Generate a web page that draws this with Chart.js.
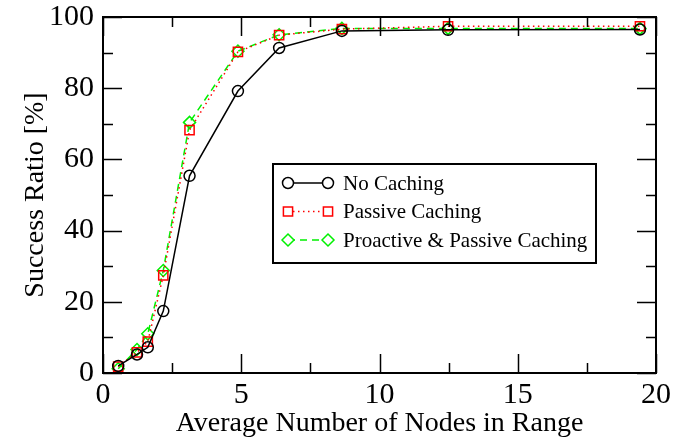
<!DOCTYPE html>
<html>
<head>
<meta charset="utf-8">
<script src="https://cdn.jsdelivr.net/npm/chart.js@4.4.1/dist/chart.umd.min.js"></script>
<style>
  html, body { margin: 0; padding: 0; background: #fff; }
  #wrap { width: 675px; height: 438px; }
</style>
</head>
<body>
<div id="wrap"><canvas id="ratioChart"></canvas></div>
<script>
// Average number of nodes in range (x) and success ratio in % (y)
const nodesInRange = [0.55, 1.23, 1.62, 2.18, 3.13, 4.88, 6.37, 8.64, 12.48, 19.42];
const noCaching = [2.0, 5.2, 7.2, 17.4, 55.4, 79.2, 91.3, 96.1, 96.4, 96.5];
const passiveCaching = [1.8, 5.8, 8.8, 27.4, 68.2, 90.2, 94.9, 96.6, 97.4, 97.4];
const proactivePassive = [1.2, 6.6, 11.0, 28.8, 70.4, 90.4, 95.0, 96.8, 96.8, 96.8];
const xTicks = [0, 5, 10, 15, 20];
const yTicks = [0, 20, 40, 60, 80, 100];

const serif = '"Liberation Serif", "DejaVu Serif", serif';

function points(ys) {
    return nodesInRange.map((x, i) => ({x: x, y: ys[i]}));
}

// Box frame with inward major/minor ticks on all four sides
const frameTicks = {
    id: 'frameTicks',
    afterDatasetsDraw(chart) {
        const {ctx, chartArea: a, scales: {x, y}} = chart;
        ctx.save();
        ctx.strokeStyle = '#000';
        ctx.lineWidth = 1.5;
        ctx.beginPath();
        const tick = (x1, y1, x2, y2) => { ctx.moveTo(x1, y1); ctx.lineTo(x2, y2); };
        for (let v = 0; v <= 20; v += 2.5) {
            const px = Math.round(x.getPixelForValue(v)) + 0.5;
            const len = v % 5 === 0 ? 19 : 10;
            tick(px, a.bottom, px, a.bottom - len);
            tick(px, a.top, px, a.top + len);
        }
        for (let v = 0; v <= 100; v += 10) {
            const py = Math.round(y.getPixelForValue(v)) + 0.5;
            const len = v % 20 === 0 ? 19 : 10;
            tick(a.left, py, a.left + len, py);
            tick(a.right, py, a.right - len, py);
        }
        ctx.stroke();
        ctx.lineWidth = 2;
        ctx.strokeRect(a.left, a.top, a.right - a.left, a.bottom - a.top);
        ctx.restore();
    }
};

// Boxed legend inside the plot, line with a marker at both ends
const boxLegend = {
    id: 'boxLegend',
    afterDraw(chart) {
        const ctx = chart.ctx;
        const left = 273, top = 164, width = 323, height = 99;
        ctx.save();
        ctx.fillStyle = '#fff';
        ctx.fillRect(left, top, width, height);
        ctx.strokeStyle = '#000';
        ctx.lineWidth = 2;
        ctx.strokeRect(left, top, width, height);
        chart.data.datasets.forEach((ds, i) => {
            const rowY = 183 + i * 28.5;
            const x1 = 288, x2 = 328;
            ctx.strokeStyle = ds.borderColor;
            ctx.lineWidth = ds.borderWidth;
            ctx.setLineDash(ds.borderDash || []);
            ctx.beginPath();
            ctx.moveTo(x1, rowY);
            ctx.lineTo(x2, rowY);
            ctx.stroke();
            ctx.setLineDash([]);
            const opts = {
                pointStyle: ds.pointStyle,
                radius: ds.pointRadius,
                rotation: 0,
                borderWidth: ds.pointBorderWidth
            };
            ctx.lineWidth = ds.pointBorderWidth;
            ctx.fillStyle = '#fff';
            [x1, x2].forEach(px => Chart.helpers.drawPoint(ctx, opts, px, rowY));
            ctx.fillStyle = '#000';
            ctx.font = '21px ' + serif;
            ctx.textBaseline = 'middle';
            ctx.fillText(ds.label, 343, rowY + 1);
        });
        ctx.restore();
    }
};

new Chart(document.getElementById('ratioChart'), {
    type: 'scatter',
    data: {
        datasets: [
            {
                label: 'No Caching',
                data: points(noCaching),
                showLine: true,
                borderColor: '#000',
                borderWidth: 1.5,
                pointStyle: 'circle',
                pointRadius: 5.5,
                pointBorderWidth: 1.5,
                pointBorderColor: '#000',
                pointBackgroundColor: 'rgba(0,0,0,0)'
            },
            {
                label: 'Passive Caching',
                data: points(passiveCaching),
                showLine: true,
                borderColor: '#ff0000',
                borderWidth: 1.5,
                borderDash: [1.5, 3.5],
                pointStyle: 'rect',
                pointRadius: 6.5,
                pointBorderWidth: 1.5,
                pointBorderColor: '#ff0000',
                pointBackgroundColor: 'rgba(0,0,0,0)'
            },
            {
                label: 'Proactive & Passive Caching',
                data: points(proactivePassive),
                showLine: true,
                borderColor: '#00f000',
                borderWidth: 1.5,
                borderDash: [7, 5],
                pointStyle: 'rectRot',
                pointRadius: 6,
                pointBorderWidth: 1.5,
                pointBorderColor: '#00f000',
                pointBackgroundColor: 'rgba(0,0,0,0)'
            }
        ]
    },
    options: {
        responsive: true,
        maintainAspectRatio: false,
        animation: false,
        layout: {
            padding: {top: 17, right: 19, left: 0, bottom: 0}
        },
        scales: {
            x: {
                type: 'linear',
                min: 0,
                max: 20,
                afterFit: scale => {
                    scale.height = 65;
                    scale.paddingLeft = 0;
                    scale.paddingRight = 0;
                },
                afterBuildTicks: scale => { scale.ticks = xTicks.map(v => ({value: v})); },
                grid: {display: false, drawTicks: false},
                border: {display: false},
                ticks: {
                    color: '#000',
                    padding: 4,
                    maxRotation: 0,
                    font: {family: serif, size: 30}
                },
                title: {
                    display: true,
                    text: 'Average Number of Nodes in Range',
                    color: '#000',
                    padding: {top: 0, bottom: -2},
                    font: {family: serif, size: 28}
                }
            },
            y: {
                type: 'linear',
                min: 0,
                max: 100,
                afterFit: scale => {
                    scale.width = 103;
                    scale.paddingTop = 0;
                    scale.paddingBottom = 0;
                },
                afterBuildTicks: scale => { scale.ticks = yTicks.map(v => ({value: v})); },
                grid: {display: false, drawTicks: false},
                border: {display: false},
                ticks: {
                    color: '#000',
                    padding: 9,
                    font: {family: serif, size: 30}
                },
                title: {
                    display: true,
                    text: 'Success Ratio [%]',
                    color: '#000',
                    padding: {top: 19, bottom: 0},
                    font: {family: serif, size: 28}
                }
            }
        },
        plugins: {
            legend: {display: false},
            tooltip: {enabled: false}
        }
    },
    plugins: [frameTicks, boxLegend]
});
</script>
</body>
</html>
